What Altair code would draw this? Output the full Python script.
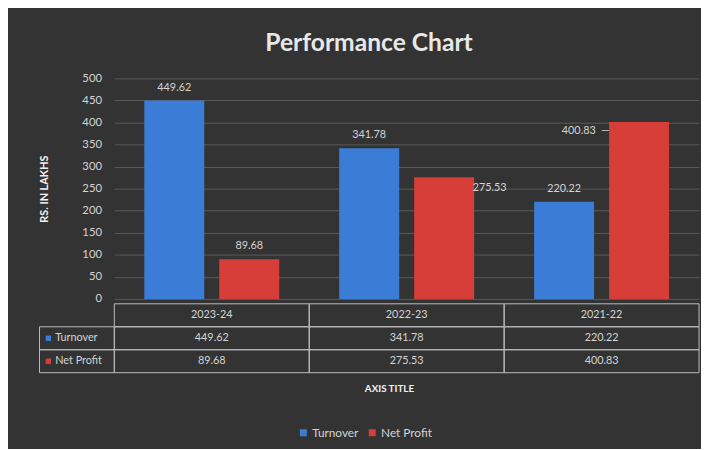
import altair as alt
import pandas as pd

# ---- data ----
years = ["2023-24", "2022-23", "2021-22"]
turnover = [449.62, 341.78, 220.22]
net_profit = [89.68, 275.53, 400.83]
series = ["Turnover", "Net Profit"]
colors = ["#3b7dd6", "#d63e37"]
y_ticks = [0, 50, 100, 150, 200, 250, 300, 350, 400, 450, 500]
table_rows = ["hdr", "Turnover", "Net Profit"]

rows = []
for i, yr in enumerate(years):
    rows.append({"year": yr, "series": "Turnover", "value": turnover[i]})
    rows.append({"year": yr, "series": "Net Profit", "value": net_profit[i]})
df = pd.DataFrame(rows)
df["label"] = df["value"].map(lambda v: f"{v:.2f}")

trows = []
for i, yr in enumerate(years):
    trows.append({"year": yr, "row": "hdr", "text": yr})
    trows.append({"year": yr, "row": "Turnover", "text": f"{turnover[i]:.2f}"})
    trows.append({"year": yr, "row": "Net Profit", "text": f"{net_profit[i]:.2f}"})
tdf = pd.DataFrame(trows)
ldf = pd.DataFrame({"row": series, "series": series})

W = 594
FONT = "Lato"
TXT = "#d4d4d4"

xenc = alt.X("year:N", sort=years, scale=alt.Scale(paddingInner=0, paddingOuter=0), axis=None)

base = alt.Chart(df).encode(
    x=xenc,
    xOffset=alt.XOffset("series:N", sort=series,
                        scale=alt.Scale(domain=series, paddingInner=0.2, paddingOuter=0.4)),
    y=alt.Y("value:Q", scale=alt.Scale(domain=[0, 500]),
            axis=alt.Axis(values=y_ticks, title="RS. IN LAKHS", titleFont=FONT,
                          titleFontSize=11, titleFontWeight="bold", titleColor="#f2f2f2",
                          titlePadding=33, labelColor=TXT, labelFontSize=11.5,
                          labelPadding=13, labelFont=FONT, ticks=False, domain=False,
                          gridColor="#5a5a5a", gridWidth=1)),
)

bars = base.mark_bar().encode(
    color=alt.Color("series:N", sort=series,
                    scale=alt.Scale(domain=series, range=colors),
                    legend=alt.Legend(title=None, orient="none", direction="horizontal",
                                      legendX=186, legendY=354, symbolType="square",
                                      symbolSize=50, symbolStrokeWidth=0,
                                      labelColor=TXT, labelFontSize=12, labelFont=FONT,
                                      columnPadding=8, labelOffset=3))
)

is_np22 = "datum.series == 'Net Profit' && datum.year == '2022-23'"
is_np21 = "datum.series == 'Net Profit' && datum.year == '2021-22'"

lab_main = base.mark_text(baseline="bottom", dy=-8, color=TXT, fontSize=11, font=FONT).encode(
    text="label:N"
).transform_filter(f"!({is_np22}) && !({is_np21})")

lab_np22 = base.mark_text(align="left", baseline="middle", dx=29, dy=11, color=TXT,
                          fontSize=11, font=FONT).encode(text="label:N").transform_filter(is_np22)

lab_np21 = base.mark_text(align="right", baseline="middle", dx=-44, dy=9, color=TXT,
                          fontSize=11, font=FONT).encode(text="label:N").transform_filter(is_np21)

lead_np21 = base.mark_text(align="right", baseline="middle", dx=-30, dy=9, color=TXT,
                           fontSize=11, font=FONT).encode(text=alt.value("—")).transform_filter(is_np21)

top = alt.layer(bars, lab_main, lab_np22, lab_np21, lead_np21).properties(width=W, height=224)

# ---- data table under the chart ----
tbase = alt.Chart(tdf).encode(
    x=alt.X("year:N", sort=years, scale=alt.Scale(paddingInner=0, paddingOuter=0),
            axis=alt.Axis(title="AXIS TITLE", labels=False, ticks=False, domain=False,
                          grid=False, titleColor="#f2f2f2", titleFontSize=10,
                          titleFontWeight="bold", titleFont=FONT, titlePadding=11,
                          titleX=279)),
    y=alt.Y("row:N", sort=table_rows, scale=alt.Scale(domain=table_rows, paddingInner=0, paddingOuter=0),
            axis=None),
)
cells = tbase.mark_rect(fill="transparent", stroke="#bdbdbd", strokeWidth=1)
ctext = tbase.mark_text(color=TXT, fontSize=11, font=FONT).encode(text="text:N")

lbase = alt.Chart(ldf).encode(
    y=alt.Y("row:N", sort=table_rows, scale=alt.Scale(domain=table_rows, paddingInner=0, paddingOuter=0),
            axis=None)
)
lcells = lbase.mark_rect(fill="transparent", stroke="#bdbdbd", strokeWidth=1).encode(
    x=alt.value(-76), x2=alt.value(0))
lsq = lbase.mark_square(size=30, opacity=1).encode(
    x=alt.value(-67),
    fill=alt.Fill("series:N", scale=alt.Scale(domain=series, range=colors), legend=None))
ltext = lbase.mark_text(align="left", color=TXT, fontSize=11, font=FONT).encode(
    x=alt.value(-60), text="row:N")

table = alt.layer(cells, ctext, lcells, lsq, ltext).properties(width=W, height=70)

chart = alt.vconcat(top, table, spacing=5, bounds="flush").properties(
    title=alt.TitleParams("Performance  Chart", fontSize=25, font=FONT, fontWeight="bold",
                          color="#e8e8e8", anchor="middle", offset=17),
    padding={"left": 30, "top": 20, "right": 1, "bottom": 7},
).configure(background="#333333").configure_view(stroke=None)

chart.save("out.html", embed_options={"renderer": "svg", "actions": False})
